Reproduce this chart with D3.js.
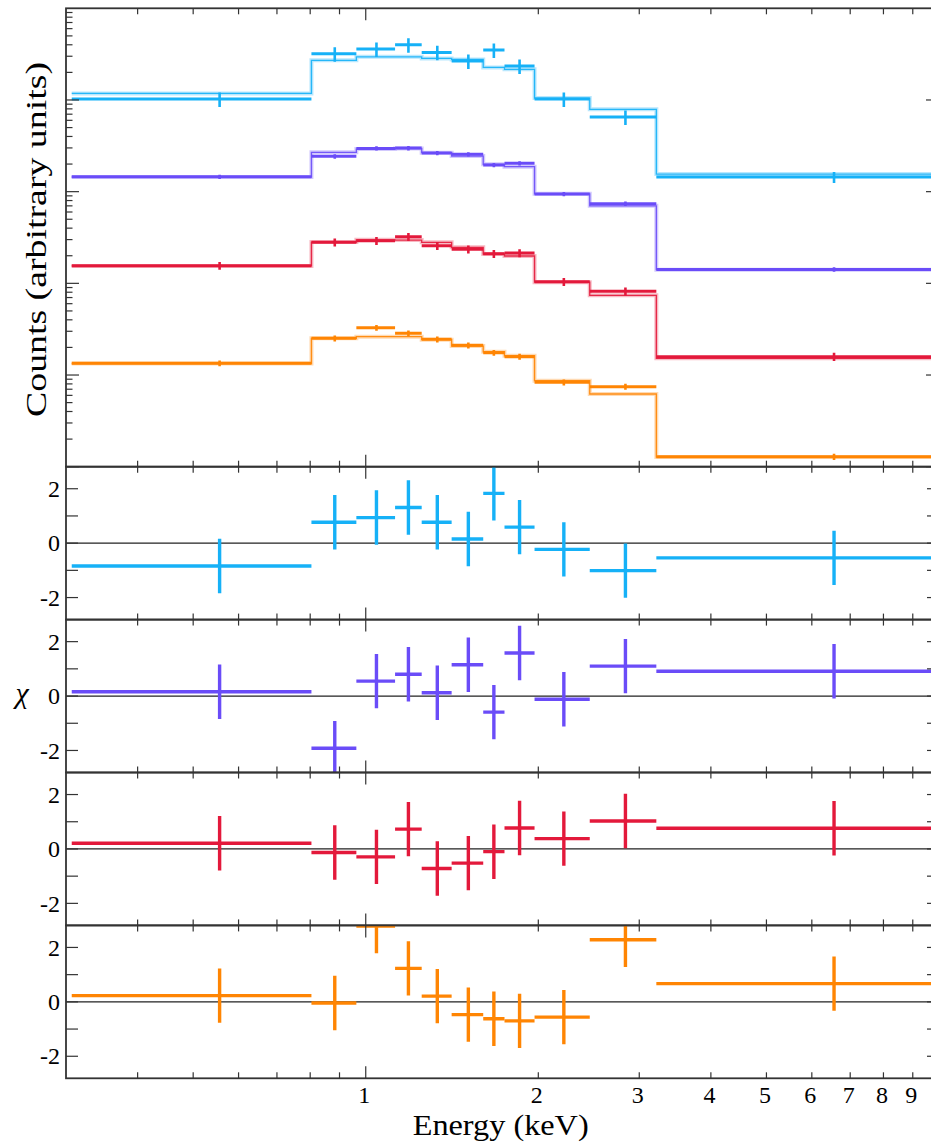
<!DOCTYPE html>
<html><head><meta charset="utf-8">
<script src="https://cdn.jsdelivr.net/npm/d3@7"></script>
<style>body{margin:0;background:#fff}svg{display:block}</style>
</head><body><svg id="c" width="931" height="1143"></svg>
<script>
// ---- data ----
const binLo     = [0.307, 0.804, 0.963, 1.125, 1.252, 1.412, 1.603, 1.746, 1.970, 2.459, 3.213];
const binHi     = [0.804, 0.963, 1.125, 1.252, 1.412, 1.603, 1.746, 1.970, 2.459, 3.213, 9.90];
const binCenter = [0.556, 0.883, 1.044, 1.187, 1.333, 1.510, 1.673, 1.855, 2.216, 2.838, 6.56];

const seriesColors = ["#16b1f7", "#6a4cf8", "#e3193b", "#ff8503"];

const countsCyan   = [10233, 31915, 35892, 39994, 33037, 26546, 34995, 23442, 10233, 6516, 1442];
const modelCyan    = [11803, 27040, 29580, 29580, 28379, 27669, 22646, 21577, 10495, 7907, 1556];
const errCyan      = [1840, 5740, 6460, 7200, 5950, 4780, 6300, 4220, 1840, 1170, 200];

const countsPurple = [1452, 2427, 2965, 2985, 2636, 2553, 1950, 2037, 942, 738, 142];
const modelPurple  = [1445, 2685, 2917, 2951, 2661, 2443, 1986, 1871, 946, 701, 141];
const errPurple    = [80, 135, 160, 165, 145, 140, 108, 112, 52, 41, 8];

const countsRed    = [155.6, 279.9, 291.7, 322.1, 257.0, 235.0, 210.4, 213.8, 104.0, 81.8, 15.85];
const modelRed     = [154.9, 281.8, 298.5, 296.5, 279.9, 247.2, 208.9, 198.6, 103.0, 74.0, 15.2];
const errRed       = [15, 28, 29, 32, 26, 23.5, 21, 21.4, 10.4, 8.2, 1.6];

const countsOrange = [13.43, 25.12, 32.81, 28.51, 24.49, 21.09, 17.50, 15.85, 8.32, 7.45, 1.285];
const modelOrange  = [13.34, 25.12, 26.18, 26.18, 24.32, 20.70, 17.95, 16.22, 8.67, 6.21, 1.276];
const errOrange    = [1.0, 1.9, 2.4, 2.1, 1.8, 1.6, 1.3, 1.2, 0.62, 0.56, 0.10];

const chiCyan   = [-0.84, 0.77, 0.94, 1.31, 0.77, 0.15, 1.83, 0.59, -0.23, -1.01, -0.54];
const chiPurple = [0.16, -1.92, 0.55, 0.80, 0.12, 1.15, -0.59, 1.58, -0.12, 1.10, 0.91];
const chiRed    = [0.21, -0.13, -0.29, 0.73, -0.72, -0.52, -0.10, 0.77, 0.38, 1.03, 0.76];
const chiOrange = [0.23, -0.04, 2.79, 1.23, 0.21, -0.47, -0.62, -0.70, -0.56, 2.28, 0.67];

const xTickLabels = [1, 2, 3, 4, 5, 6, 7, 8, 9];
const chiTickLabels = [2, 0, -2];

const seriesCounts = [countsCyan, countsPurple, countsRed, countsOrange];
const seriesModel  = [modelCyan, modelPurple, modelRed, modelOrange];
const seriesErr    = [errCyan, errPurple, errRed, errOrange];
const seriesChi    = [chiCyan, chiPurple, chiRed, chiOrange];

// ---- layout ----
const L = 66, R = 939;
const topY0 = 8.3, topY1 = 466.7;
const resBottom = 1078.3;
const resH = (resBottom - topY1) / 4;
const FONT = "'Liberation Serif', 'Times New Roman', serif";
const AX = "#333";

const svg = d3.select("#c");
const x = d3.scaleLog().domain([0.3, 10]).range([L, R]);
const yTop = d3.scaleLog().domain([1, 1e5]).range([topY1, topY0]);

const defs = svg.append("defs");
function clip(id, y0, y1) {
  defs.append("clipPath").attr("id", id).append("rect")
    .attr("x", L).attr("y", y0).attr("width", R - L).attr("height", y1 - y0);
}

const xMinor = [0.4,0.5,0.6,0.7,0.8,0.9,2,3,4,5,6,7,8,9];
const xMajor = [1, 10];
function xTicks(g, y0, y1) {
  xMinor.forEach(v => {
    g.append("line").attr("x1", x(v)).attr("x2", x(v)).attr("y1", y0).attr("y2", y0 + 6).attr("stroke", AX).attr("stroke-width", 1.2);
    g.append("line").attr("x1", x(v)).attr("x2", x(v)).attr("y1", y1).attr("y2", y1 - 6).attr("stroke", AX).attr("stroke-width", 1.2);
  });
  xMajor.forEach(v => {
    g.append("line").attr("x1", x(v)).attr("x2", x(v)).attr("y1", y0).attr("y2", y0 + 12).attr("stroke", AX).attr("stroke-width", 1.2);
    g.append("line").attr("x1", x(v)).attr("x2", x(v)).attr("y1", y1).attr("y2", y1 - 12).attr("stroke", AX).attr("stroke-width", 1.2);
  });
}
function frame(g, y0, y1) {
  g.append("rect").attr("x", L).attr("y", y0).attr("width", R - L).attr("height", y1 - y0)
    .attr("fill", "none").attr("stroke", AX).attr("stroke-width", 1.8);
}

// ---- top panel ----
const gTop = svg.append("g");
clip("clipTop", topY0, topY1);
const gTopData = gTop.append("g").attr("clip-path", "url(#clipTop)");

const stepLine = d3.line().x(d => x(d[0])).y(d => yTop(d[1]));
seriesCounts.forEach((counts, s) => {
  const col = seriesColors[s];
  const model = seriesModel[s];
  const pts = [];
  binLo.forEach((lo, i) => { pts.push([lo, model[i]]); pts.push([binHi[i], model[i]]); });
  gTopData.append("path").attr("d", stepLine(pts)).attr("fill", "none")
    .attr("stroke", col).attr("stroke-opacity", 0.3).attr("stroke-width", 4);
  gTopData.append("path").attr("d", stepLine(pts)).attr("fill", "none")
    .attr("stroke", col).attr("stroke-opacity", 0.9).attr("stroke-width", 1.3);
  counts.forEach((c, i) => {
    const e = seriesErr[s][i];
    gTopData.append("line").attr("x1", x(binLo[i])).attr("x2", x(binHi[i]))
      .attr("y1", yTop(c)).attr("y2", yTop(c)).attr("stroke", col).attr("stroke-width", 3);
    gTopData.append("line").attr("x1", x(binCenter[i])).attr("x2", x(binCenter[i]))
      .attr("y1", yTop(c + e)).attr("y2", yTop(Math.max(c - e, 1e-3))).attr("stroke", col).attr("stroke-width", 2.6);
  });
});

for (let dec = 0; dec < 5; dec++) {
  for (let m = 1; m <= 9; m++) {
    const v = m * Math.pow(10, dec);
    const len = m === 1 ? 13 : 6.5;
    gTop.append("line").attr("x1", L).attr("x2", L + len).attr("y1", yTop(v)).attr("y2", yTop(v)).attr("stroke", AX).attr("stroke-width", 1.2);
    gTop.append("line").attr("x1", R).attr("x2", R - len).attr("y1", yTop(v)).attr("y2", yTop(v)).attr("stroke", AX).attr("stroke-width", 1.2);
  }
}
xTicks(gTop, topY0, topY1);
frame(gTop, topY0, topY1);

svg.append("text").attr("transform", `translate(46,${(62 + 417) / 2}) rotate(-90)`)
  .attr("text-anchor", "middle").attr("font-family", FONT).attr("font-size", 30)
  .attr("textLength", 355).attr("lengthAdjust", "spacingAndGlyphs")
  .text("Counts (arbitrary units)");

// ---- residual panels ----
seriesChi.forEach((chi, s) => {
  const y0 = topY1 + s * resH, y1 = y0 + resH;
  const col = seriesColors[s];
  const yR = d3.scaleLinear().domain([-2.81, 2.81]).range([y1, y0]);
  const g = svg.append("g");
  clip("clipR" + s, y0, y1);
  const gd = g.append("g").attr("clip-path", `url(#clipR${s})`);
  gd.append("line").attr("x1", L).attr("x2", R).attr("y1", yR(0)).attr("y2", yR(0))
    .attr("stroke", "#222").attr("stroke-width", 1.3);
  chi.forEach((v, i) => {
    gd.append("line").attr("x1", x(binLo[i])).attr("x2", x(binHi[i]))
      .attr("y1", yR(v)).attr("y2", yR(v)).attr("stroke", col).attr("stroke-width", 3.4);
    gd.append("line").attr("x1", x(binCenter[i])).attr("x2", x(binCenter[i]))
      .attr("y1", yR(v + 1)).attr("y2", yR(v - 1)).attr("stroke", col).attr("stroke-width", 3.4);
  });
  [-2, -1, 0, 1, 2].forEach(t => {
    g.append("line").attr("x1", L).attr("x2", L + 12).attr("y1", yR(t)).attr("y2", yR(t)).attr("stroke", AX).attr("stroke-width", 1.2);
    g.append("line").attr("x1", R).attr("x2", R - 12).attr("y1", yR(t)).attr("y2", yR(t)).attr("stroke", AX).attr("stroke-width", 1.2);
  });
  chiTickLabels.forEach(t => {
    g.append("text").attr("x", 60).attr("y", yR(t)).attr("dy", "0.34em")
      .attr("text-anchor", "end").attr("font-family", FONT).attr("font-size", 24)
      .text(t < 0 ? "-" + Math.abs(t) : String(t));
  });
  xTicks(g, y0, y1);
  frame(g, y0, y1);
});

svg.append("text").attr("x", 22).attr("y", topY1 + 1.5 * resH + 7)
  .attr("text-anchor", "middle").attr("font-family", FONT).attr("font-size", 30)
  .attr("font-style", "italic")
  .text("χ");

xTickLabels.forEach(v => {
  svg.append("text").attr("x", x(v) - 1.5).attr("y", 1103).attr("text-anchor", "middle")
    .attr("font-family", FONT).attr("font-size", 24).text(String(v));
});
svg.append("text").attr("x", 500.7).attr("y", 1135).attr("text-anchor", "middle")
  .attr("font-family", FONT).attr("font-size", 29)
  .attr("textLength", 176).attr("lengthAdjust", "spacingAndGlyphs")
  .text("Energy (keV)");
</script>
</body></html>
